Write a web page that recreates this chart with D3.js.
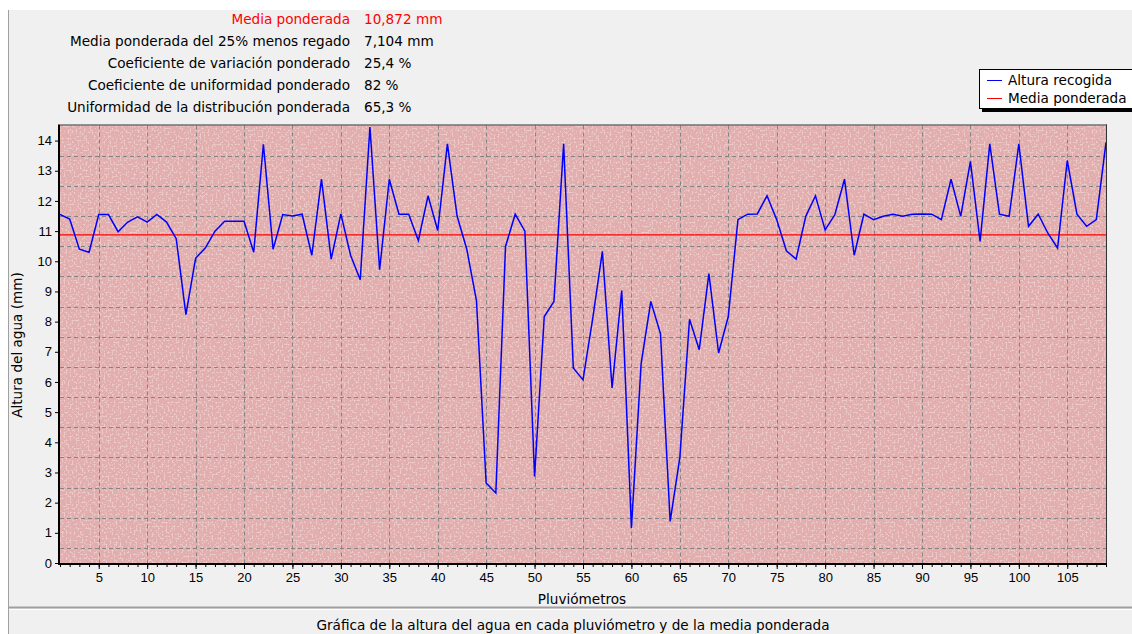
<!DOCTYPE html>
<html>
<head>
<meta charset="utf-8">
<script src="https://d3js.org/d3.v7.min.js"></script>
<style>
  body { margin: 0; background: #fff; }
  svg { display: block; font-family: "DejaVu Sans", Verdana, sans-serif; }
  .tick text { font-size: 13px; fill: #000; }
</style>
</head>
<body>
<div id="chart"></div>
<script>
// valores
var alturaRecogida = [
  11.55, 11.4, 10.4, 10.3, 11.55, 11.55, 10.98, 11.3, 11.47, 11.3,
  11.55, 11.3, 10.75, 8.23, 10.1, 10.44, 11.0, 11.33, 11.33, 11.33,
  10.3, 13.88, 10.4, 11.55, 11.5, 11.56, 10.2, 12.72, 10.07, 11.57,
  10.2, 9.39, 14.45, 9.72, 12.72, 11.56, 11.56, 10.69, 12.17, 11.02,
  13.89, 11.5, 10.4, 8.7, 2.65, 2.32, 10.49, 11.56, 11.0, 2.87,
  8.17, 8.67, 13.89, 6.46, 6.07, 8.1, 10.33, 5.8, 9.03, 1.16,
  6.6, 8.67, 7.6, 1.38, 3.5, 8.08, 7.07, 9.59, 6.96, 8.17,
  11.38, 11.56, 11.57, 12.17, 11.38, 10.35, 10.07, 11.49, 12.17, 11.04,
  11.54, 12.72, 10.2, 11.56, 11.38, 11.49, 11.56, 11.49, 11.56, 11.57,
  11.56, 11.38, 12.72, 11.49, 13.31, 10.66, 13.89, 11.56, 11.49, 13.89,
  11.16, 11.56, 10.93, 10.44, 13.34, 11.56, 11.16, 11.38, 13.94
];
var pluviometros = alturaRecogida.map(function(d, i) { return i + 1; });
var mediaPonderada = 10.872;

var xTicks = d3.range(5, 110, 5);
var yTicks = d3.range(0, 15);
var yGrid = d3.range(0.5, 14, 1);

var estadisticas = [
  "Media ponderada",
  "Media ponderada del 25% menos regado",
  "Coeficiente de variación  ponderado",
  "Coeficiente de uniformidad ponderado",
  "Uniformidad de la distribución ponderada"
];
var valoresEstadisticas = ["10,872 mm", "7,104 mm", "25,4 %", "82 %", "65,3 %"];

var seriesLegend = ["Altura recogida", "Media ponderada"];
var seriesColor = ["#0000ff", "#ff0000"];

var W = 1132, H = 634;
var pLeft = 60, pRight = 1106, pTop = 125.5, pBottom = 563;
var fs = "13.6px";

var svg = d3.select("#chart").append("svg")
    .attr("width", W)
    .attr("height", H);

var defs = svg.append("defs");
var f = defs.append("filter").attr("id", "speckle")
    .attr("x", 0).attr("y", 0).attr("width", "100%").attr("height", "100%");
f.append("feTurbulence").attr("type", "fractalNoise")
    .attr("baseFrequency", 0.5).attr("numOctaves", 2).attr("seed", 4).attr("result", "n");
f.append("feColorMatrix").attr("in", "n").attr("type", "matrix")
    .attr("values", "0 0 0 0 0.95  0 0 0 0 0.83  0 0 0 0 0.83  7 0 0 0 -3.5");
defs.append("clipPath").attr("id", "plotClip")
  .append("rect").attr("x", pLeft).attr("y", pTop)
    .attr("width", pRight - pLeft).attr("height", pBottom - pTop);

// panel gris
svg.append("rect").attr("x", 8).attr("y", 10).attr("width", W - 8).attr("height", H - 10)
    .attr("fill", "#f0f0f0");
svg.append("line").attr("x1", 8.5).attr("x2", 8.5).attr("y1", 10).attr("y2", H)
    .attr("stroke", "#a0a0a0");
svg.append("line").attr("x1", 8).attr("x2", W).attr("y1", 607.5).attr("y2", 607.5)
    .attr("stroke", "#a0a0a0").attr("stroke-width", 2);
svg.append("line").attr("x1", 9).attr("x2", W).attr("y1", 609.5).attr("y2", 609.5)
    .attr("stroke", "#ffffff");

var x = d3.scaleLinear().domain([1, 109]).range([pLeft, pRight]);
var y = d3.scaleLinear().domain([0, 14.5]).range([pBottom, pTop]);

// fondo del área
svg.append("rect").attr("x", pLeft).attr("y", pTop)
    .attr("width", pRight - pLeft).attr("height", pBottom - pTop)
    .attr("fill", "#e2adad");
svg.append("rect").attr("x", pLeft).attr("y", pTop)
    .attr("width", pRight - pLeft).attr("height", pBottom - pTop)
    .attr("filter", "url(#speckle)").attr("opacity", 0.45);

var grid = svg.append("g").attr("stroke", "#858585").attr("stroke-dasharray", "4,3");
grid.selectAll(".gx").data(xTicks).enter().append("line")
    .attr("x1", function(d) { return Math.round(x(d)) + 0.5; })
    .attr("x2", function(d) { return Math.round(x(d)) + 0.5; })
    .attr("y1", pTop).attr("y2", pBottom);
grid.selectAll(".gy").data(yGrid).enter().append("line")
    .attr("y1", function(d) { return Math.round(y(d)) + 0.5; })
    .attr("y2", function(d) { return Math.round(y(d)) + 0.5; })
    .attr("x1", pLeft).attr("x2", pRight);

// ejes
var gy = svg.append("g").attr("transform", "translate(" + (pLeft - 1) + ",0)")
    .call(d3.axisLeft(y).tickValues(yTicks).tickSize(4).tickPadding(3));
gy.select(".domain").remove();

var gxMinor = svg.append("g").attr("transform", "translate(0," + (pBottom + 1) + ")")
    .call(d3.axisBottom(x).tickValues(pluviometros).tickSize(3).tickFormat(""));
gxMinor.select(".domain").remove();
var gx = svg.append("g").attr("transform", "translate(0," + (pBottom + 1) + ")")
    .call(d3.axisBottom(x).tickValues(xTicks).tickSize(5).tickPadding(4));
gx.select(".domain").remove();

// series
var plot = svg.append("g").attr("clip-path", "url(#plotClip)");
plot.append("line")
    .attr("x1", pLeft).attr("x2", pRight)
    .attr("y1", y(mediaPonderada)).attr("y2", y(mediaPonderada))
    .attr("stroke", seriesColor[1]).attr("stroke-width", 1.2);
var line = d3.line()
    .x(function(d, i) { return x(pluviometros[i]); })
    .y(function(d) { return y(d); });
plot.append("path").datum(alturaRecogida)
    .attr("d", line)
    .attr("fill", "none")
    .attr("stroke", seriesColor[0])
    .attr("stroke-width", 1.5);

// marco
svg.append("line").attr("x1", pLeft).attr("x2", pRight + 1).attr("y1", pTop - 0.5).attr("y2", pTop - 0.5)
    .attr("stroke", "#333");
svg.append("line").attr("x1", pRight + 0.5).attr("x2", pRight + 0.5).attr("y1", pTop - 1).attr("y2", pBottom)
    .attr("stroke", "#333");
svg.append("line").attr("x1", pLeft - 1).attr("x2", pLeft - 1).attr("y1", pTop - 1).attr("y2", pBottom + 2)
    .attr("stroke", "#000").attr("stroke-width", 2);
svg.append("line").attr("x1", pLeft - 2).attr("x2", pRight + 1).attr("y1", pBottom + 1).attr("y2", pBottom + 1)
    .attr("stroke", "#000").attr("stroke-width", 2);

// títulos
svg.append("text").attr("x", 582).attr("y", 604).attr("text-anchor", "middle")
    .style("font-size", fs).text("Pluviómetros");
svg.append("text").attr("transform", "translate(22,345) rotate(-90)").attr("text-anchor", "middle")
    .style("font-size", fs).text("Altura del agua (mm)");
svg.append("text").attr("x", 573).attr("y", 630).attr("text-anchor", "middle")
    .style("font-size", fs).text("Gráfica de la altura del agua en cada pluviómetro y de la media ponderada");

// estadísticas
var st = svg.append("g").style("font-size", fs);
st.selectAll(".lab").data(estadisticas).enter().append("text")
    .attr("x", 350).attr("y", function(d, i) { return 24 + i * 22; })
    .attr("text-anchor", "end")
    .attr("fill", function(d, i) { return i === 0 ? "#ff0000" : "#000"; })
    .text(function(d) { return d; });
st.selectAll(".val").data(valoresEstadisticas).enter().append("text")
    .attr("x", 364).attr("y", function(d, i) { return 24 + i * 22; })
    .attr("fill", function(d, i) { return i === 0 ? "#ff0000" : "#000"; })
    .text(function(d) { return d; });

// leyenda
var lg = svg.append("g");
lg.append("rect").attr("x", 982).attr("y", 72).attr("width", 160).attr("height", 40).attr("fill", "#000");
lg.append("rect").attr("x", 979.5).attr("y", 69.5).attr("width", 160).attr("height", 39)
    .attr("fill", "#fff").attr("stroke", "#000");
seriesLegend.forEach(function(s, i) {
  lg.append("line").attr("x1", 987).attr("x2", 1002)
      .attr("y1", 80.5 + i * 18).attr("y2", 80.5 + i * 18)
      .attr("stroke", seriesColor[i]);
  lg.append("text").attr("x", 1008).attr("y", 85 + i * 18)
      .style("font-size", fs).text(s);
});
</script>
</body>
</html>
